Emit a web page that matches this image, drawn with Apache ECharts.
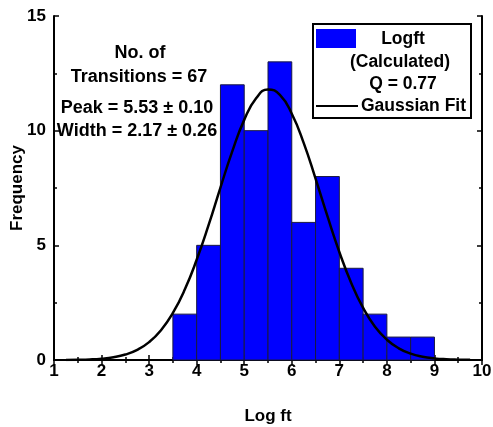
<!DOCTYPE html>
<html>
<head>
<meta charset="utf-8">
<script src="https://cdn.jsdelivr.net/npm/echarts@6/dist/echarts.min.js"></script>
<style>html,body{margin:0;padding:0;background:#fff}#c{width:493px;height:427px}</style>
</head>
<body>
<div id="c"></div>
<script>
// Histogram bins (left edge) and counts
var binStarts = [3.5, 4.0, 4.5, 5.0, 5.5, 6.0, 6.5, 7.0, 7.5, 8.0, 8.5];
var binWidth = 0.5;
var counts = [2, 5, 12, 10, 13, 6, 8, 4, 2, 1, 1];
// Gaussian fit curve
var fitX = [1.25, 1.5, 1.75, 2.0, 2.25, 2.5, 2.75, 3.0, 3.25, 3.5, 3.75, 4.0, 4.25, 4.5, 4.75, 5.0, 5.25, 5.5, 5.75, 6.0, 6.25, 6.5, 6.75, 7.0, 7.25, 7.5, 7.75, 8.0, 8.25, 8.5, 8.75, 9.0, 9.25, 9.5, 9.75];
var fitY = [0.005, 0.012, 0.026, 0.059, 0.122, 0.239, 0.443, 0.78, 1.30, 2.05, 3.07, 4.37, 5.88, 7.52, 9.11, 10.47, 11.41, 11.80, 11.56, 10.74, 9.47, 7.91, 6.27, 4.71, 3.36, 2.27, 1.45, 0.885, 0.51, 0.279, 0.144, 0.071, 0.033, 0.015, 0.006];
var xTicks = [1, 2, 3, 4, 5, 6, 7, 8, 9, 10];
var yTicks = [0, 5, 10, 15];
var annotations = ['No. of', 'Transitions = 67', 'Peak = 5.53 \u00b1 0.10', 'Width = 2.17 \u00b1 0.26'];
var legendLines = ['Logft', '(Calculated)', 'Q = 0.77', 'Gaussian Fit'];

var FONT = '"Liberation Sans", Arial, sans-serif';
var FS = 17;
var chart = echarts.init(document.getElementById('c'));

var histData = binStarts.map(function (s, i) { return [s, s + binWidth, counts[i]]; });
var fitData = fitX.map(function (x, i) { return [x, fitY[i]]; });

var tickStyle = { inside: true, length: 5, lineStyle: { color: '#000', width: 1.5 } };
var minorStyle = { show: true, splitNumber: 2, length: 3, lineStyle: { color: '#000', width: 1.5 } };
var axisCommon = {
  axisLine: { lineStyle: { color: '#000', width: 2 } },
  splitLine: { show: false },
  axisTick: tickStyle,
  minorTick: minorStyle
};

function txt(s, x, y, align, z, fs) {
  return { type: 'text', x: x, y: y, z: z || 5,
    style: { text: s, textAlign: align || 'center', textVerticalAlign: 'middle', font: 'bold ' + (fs || FS) + 'px ' + FONT, fill: '#000' } };
}

chart.setOption({
  animation: false,
  grid: { left: 54, right: 11, top: 16, bottom: 67, containLabel: false, outerBoundsMode: 'none' },
  xAxis: [
    Object.assign({
      type: 'value', min: xTicks[0], max: xTicks[xTicks.length - 1], interval: 1,
      position: 'bottom',
      name: 'Log ft', nameLocation: 'middle', nameGap: 48,
      nameTextStyle: { fontFamily: FONT, fontWeight: 'bold', fontSize: FS, color: '#000' },
      axisLabel: { fontFamily: FONT, fontWeight: 'bold', fontSize: FS, color: '#000', margin: 3 }
    }, axisCommon),
    Object.assign({
      type: 'value', min: xTicks[0], max: xTicks[xTicks.length - 1], interval: 1,
      position: 'top',
      axisLabel: { show: false }
    }, axisCommon)
  ],
  yAxis: [
    Object.assign({
      type: 'value', min: yTicks[0], max: yTicks[yTicks.length - 1], interval: 5,
      position: 'left',
      name: 'Frequency', nameLocation: 'middle', nameGap: 28, nameRotate: 90, nameMoveOverlap: false,
      nameTextStyle: { fontFamily: FONT, fontWeight: 'bold', fontSize: FS, color: '#000' },
      axisLabel: { fontFamily: FONT, fontWeight: 'bold', fontSize: FS, color: '#000', margin: 8 }
    }, axisCommon),
    Object.assign({
      type: 'value', min: yTicks[0], max: yTicks[yTicks.length - 1], interval: 5,
      position: 'right',
      axisLabel: { show: false }
    }, axisCommon)
  ],
  series: [
    {
      type: 'custom',
      xAxisIndex: 0, yAxisIndex: 0,
      data: histData,
      encode: { x: [0, 1], y: 2 },
      renderItem: function (params, api) {
        var p0 = api.coord([api.value(0), api.value(2)]);
        var p1 = api.coord([api.value(1), 0]);
        return {
          type: 'rect',
          shape: { x: p0[0], y: p0[1], width: p1[0] - p0[0], height: p1[1] - p0[1] },
          style: { fill: '#0000ff', stroke: '#1a1a40', lineWidth: 1 }
        };
      },
      z: 2
    },
    {
      type: 'line',
      xAxisIndex: 0, yAxisIndex: 0,
      data: fitData,
      smooth: true,
      showSymbol: false,
      lineStyle: { color: '#000', width: 2.5 },
      z: 3
    }
  ],
  graphic: [
    txt(annotations[0], 140, 53, 'center', 5, 18),
    txt(annotations[1], 139, 77, 'center', 5, 18),
    txt(annotations[2], 137, 108, 'center', 5, 18),
    txt(annotations[3], 137, 131, 'center', 5, 18),
    { type: 'rect', shape: { x: 313, y: 24, width: 158, height: 94 }, style: { fill: '#fff', stroke: '#000', lineWidth: 2 }, z: 10 },
    { type: 'rect', shape: { x: 316, y: 29, width: 40, height: 19 }, style: { fill: '#0000ff', lineWidth: 0 }, z: 11 },
    txt(legendLines[0], 403, 39, 'center', 11, 17.5),
    txt(legendLines[1], 400, 62, 'center', 11, 17.5),
    txt(legendLines[2], 403, 84, 'center', 11, 17.5),
    { type: 'line', shape: { x1: 316, y1: 106, x2: 358, y2: 106 }, style: { stroke: '#000', lineWidth: 2 }, z: 11 },
    txt(legendLines[3], 361, 106, 'left', 11, 17.5)
  ]
});
</script>
</body>
</html>
